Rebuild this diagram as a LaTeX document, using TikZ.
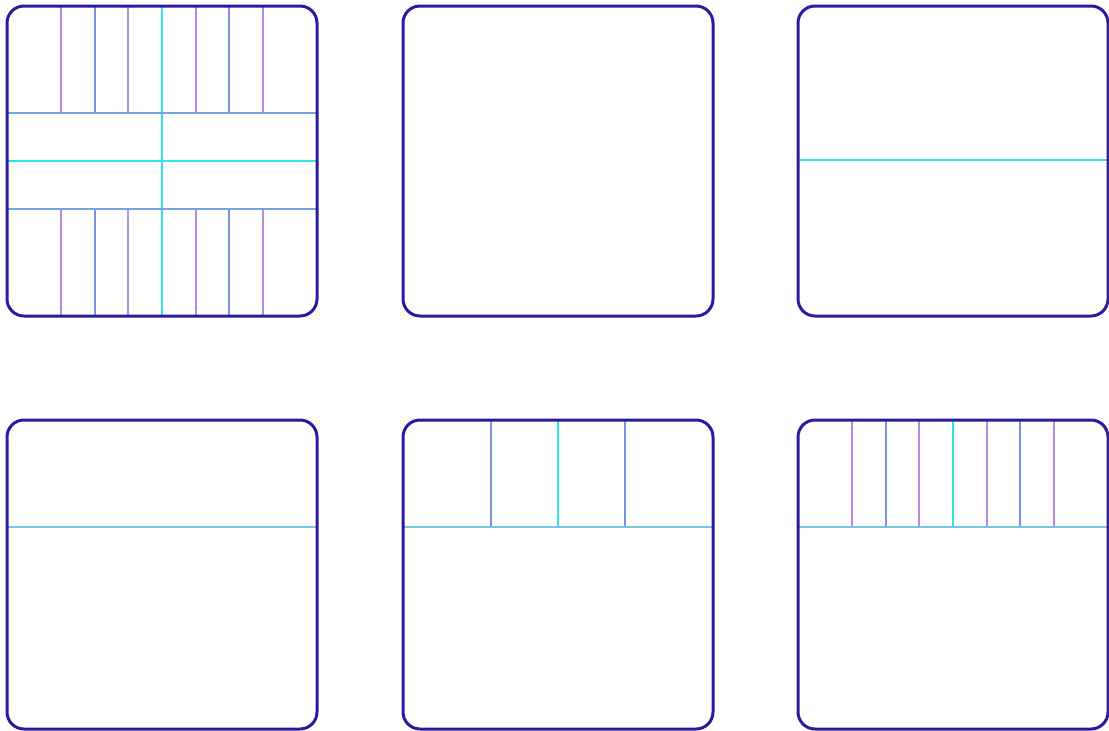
\documentclass[tikz,border=0pt]{standalone}
\definecolor{frame}{HTML}{2E1A9E}
\definecolor{purp}{HTML}{B58AE6}
\definecolor{blu}{HTML}{7C92E0}
\definecolor{cyn}{HTML}{2EE4E8}
\definecolor{sblue}{HTML}{74A6DC}
\definecolor{lblue}{HTML}{78C4E6}
\tikzset{
  boxframe/.style={draw=frame, line width=3pt, rounded corners=17pt},
  lp/.style={draw=purp, line width=2pt},
  lb/.style={draw=blu, line width=2pt},
  lc/.style={draw=cyn, line width=2.2pt},
  ls/.style={draw=sblue, line width=2pt},
  ll/.style={draw=lblue, line width=2pt},
}
\begin{document}
\begin{tikzpicture}[x=1pt,y=-1pt]
\useasboundingbox (0,0) rectangle (1109,731);
\def\W{310}\def\H{310}
% box 1
\begin{scope}[shift={(7,6)}]
  \foreach \k/\s in {-3/lp,-2/lb,-1/lp,1/lp,2/lb,3/lp}{
    \draw[\s] ({155+\k*33.7},0) -- ({155+\k*33.7},107);
    \draw[\s] ({155+\k*33.7},203) -- ({155+\k*33.7},\H);
  }
  \draw[lc] (155,0) -- (155,\H);
  \draw[ls] (0,107) -- (\W,107);
  \draw[ls] (0,203) -- (\W,203);
  \draw[lc] (0,155) -- (\W,155);
  \draw[boxframe] (0,0) rectangle (\W,\H);
\end{scope}
% box 2
\begin{scope}[shift={(403,6)}]
  \draw[boxframe] (0,0) rectangle (\W,\H);
\end{scope}
% box 3
\begin{scope}[shift={(798,6)}]
  \draw[lc] (0,154) -- (\W,154);
  \draw[boxframe] (0,0) rectangle (\W,\H);
\end{scope}
% box 4
\begin{scope}[shift={(7,420)}]
  \draw[ll] (0,107) -- (\W,107);
  \draw[boxframe] (0,0) rectangle (\W,\H-1);
\end{scope}
% box 5
\begin{scope}[shift={(403,420)}]
  \foreach \k/\s in {-2/lb,2/lb}{
    \draw[\s] ({155+\k*33.7},0) -- ({155+\k*33.7},107);
  }
  \draw[lc] (155,0) -- (155,107);
  \draw[ll] (0,107) -- (\W,107);
  \draw[boxframe] (0,0) rectangle (\W,\H-1);
\end{scope}
% box 6
\begin{scope}[shift={(798,420)}]
  \foreach \k/\s in {-3/lp,-2/lb,-1/lp,1/lp,2/lb,3/lp}{
    \draw[\s] ({155+\k*33.7},0) -- ({155+\k*33.7},107);
  }
  \draw[lc] (155,0) -- (155,107);
  \draw[ll] (0,107) -- (\W,107);
  \draw[boxframe] (0,0) rectangle (\W,\H-1);
\end{scope}
\end{tikzpicture}
\end{document}
